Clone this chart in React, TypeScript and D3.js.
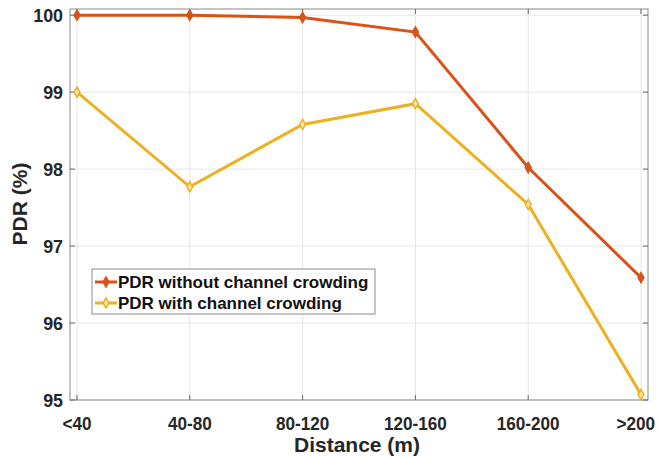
import React, { useEffect, useRef } from 'react';
import * as d3 from 'd3';

const categories = ['<40', '40-80', '80-120', '120-160', '160-200', '>200'];
const pdrWithout = [100, 100, 99.97, 99.78, 98.02, 96.59];
const pdrWith = [99.0, 97.77, 98.58, 98.85, 97.54, 95.07];
const yTicks = [95, 96, 97, 98, 99, 100];

const W = 658;
const H = 458;
const font = '"Liberation Sans", Arial, sans-serif';

const App = () => {
    const svgRef = useRef<SVGSVGElement>(null);

    useEffect(() => {
        const margin = { top: 9, right: 10, bottom: 58, left: 70 };
        const width = W - margin.left - margin.right;
        const height = H - margin.top - margin.bottom;

        const root = d3.select(svgRef.current);
        root.selectAll('*').remove();
        const svg = root.append('g').attr('transform', `translate(${margin.left},${margin.top})`);

        const x = d3.scaleLinear().domain([-0.062, categories.length - 1 + 0.062]).range([0, width]);
        const y = d3.scaleLinear().domain([95, 100.08]).range([height, 0]);
        const idx = categories.map((_, i) => i);

        // grid
        svg.append('g')
            .selectAll('line')
            .data(idx)
            .enter().append('line')
            .attr('x1', d => x(d)).attr('x2', d => x(d))
            .attr('y1', 0).attr('y2', height)
            .attr('stroke', '#e6e6e6').attr('stroke-width', 1);
        svg.append('g')
            .selectAll('line')
            .data(yTicks)
            .enter().append('line')
            .attr('x1', 0).attr('x2', width)
            .attr('y1', d => y(d)).attr('y2', d => y(d))
            .attr('stroke', '#e6e6e6').attr('stroke-width', 1);

        // box
        svg.append('rect')
            .attr('width', width).attr('height', height)
            .attr('fill', 'none').attr('stroke', '#8a8a8a').attr('stroke-width', 1);

        // ticks (inward, mirrored)
        const tk = 5;
        idx.forEach(i => {
            svg.append('line').attr('x1', x(i)).attr('x2', x(i)).attr('y1', height).attr('y2', height - tk).attr('stroke', '#666');
            svg.append('line').attr('x1', x(i)).attr('x2', x(i)).attr('y1', 0).attr('y2', tk).attr('stroke', '#666');
        });
        yTicks.forEach(v => {
            svg.append('line').attr('x1', 0).attr('x2', tk).attr('y1', y(v)).attr('y2', y(v)).attr('stroke', '#666');
            svg.append('line').attr('x1', width).attr('x2', width - tk).attr('y1', y(v)).attr('y2', y(v)).attr('stroke', '#666');
        });

        // tick labels (font in the original is a bit narrower)
        const sx = 0.9;
        svg.append('g')
            .selectAll('text')
            .data(categories)
            .enter().append('text')
            .attr('transform', (_, i) => `translate(${x(i)},${height + 30}) scale(${sx},1)`)
            .attr('text-anchor', 'middle')
            .attr('font-family', font).attr('font-weight', 'bold').attr('font-size', 19)
            .attr('fill', '#262626')
            .text(d => d)
            .each(function (_, i) {
                // keep the last label inside the page
                const w = (this as SVGTextElement).getBBox().width * sx;
                const maxX = W - margin.left - 3 - w / 2;
                if (x(i) > maxX) d3.select(this).attr('transform', `translate(${maxX},${height + 30}) scale(${sx},1)`);
            });
        svg.append('g')
            .selectAll('text')
            .data(yTicks)
            .enter().append('text')
            .attr('transform', d => `translate(-7,${y(d) + 7}) scale(0.94,1)`)
            .attr('text-anchor', 'end')
            .attr('font-family', font).attr('font-weight', 'bold').attr('font-size', 19)
            .attr('fill', '#262626')
            .text(d => d);

        // axis labels
        svg.append('text')
            .attr('x', width / 2 - 2)
            .attr('y', height + 52)
            .attr('text-anchor', 'middle')
            .attr('font-family', font).attr('font-weight', 'bold').attr('font-size', 21)
            .attr('fill', '#262626')
            .text('Distance (m)');
        svg.append('text')
            .attr('transform', `translate(${-43},${204 - margin.top}) rotate(-90)`)
            .attr('text-anchor', 'middle')
            .attr('font-family', font).attr('font-weight', 'bold').attr('font-size', 21)
            .attr('fill', '#262626')
            .text('PDR (%)');

        const line = d3.line<number>()
            .x((_, i) => x(i))
            .y(d => y(d));
        const diamond = d3.symbol().type(d3.symbolDiamond).size(30);

        const series = [
            { values: pdrWithout, color: '#D95319', fill: '#D95319', label: 'PDR without channel crowding' },
            { values: pdrWith, color: '#EDB120', fill: '#f9e4b0', label: 'PDR with channel crowding' },
        ];

        series.forEach(s => {
            svg.append('path')
                .datum(s.values)
                .attr('fill', 'none')
                .attr('stroke', s.color)
                .attr('stroke-width', 3)
                .attr('d', line);
            svg.append('g')
                .selectAll('path')
                .data(s.values)
                .enter().append('path')
                .attr('d', diamond)
                .attr('transform', (d, i) => `translate(${x(i)},${y(d)})`)
                .attr('fill', s.fill)
                .attr('stroke', s.color)
                .attr('stroke-width', 1.5);
        });

        // legend
        const lg = svg.append('g').attr('transform', `translate(${92 - margin.left},${269 - margin.top})`);
        lg.append('rect')
            .attr('width', 283).attr('height', 45)
            .attr('fill', '#fff').attr('stroke', '#8c8c8c').attr('stroke-width', 1);
        series.forEach((s, i) => {
            const cy = 13 + i * 21;
            lg.append('line').attr('x1', 3).attr('x2', 25).attr('y1', cy).attr('y2', cy)
                .attr('stroke', s.color).attr('stroke-width', 3);
            lg.append('path').attr('d', diamond).attr('transform', `translate(14,${cy})`)
                .attr('fill', s.fill).attr('stroke', s.color).attr('stroke-width', 1.5);
            lg.append('text')
                .attr('x', 26)
                .attr('y', cy + 6)
                .attr('font-family', font).attr('font-weight', 'bold').attr('font-size', 17)
                .attr('fill', '#111')
                .text(s.label);
        });
    }, []);

    return (
        <div style={{ position: 'absolute', left: 0, top: 0, width: W, height: H, background: '#fff' }}>
            <svg ref={svgRef} width={W} height={H}></svg>
        </div>
    );
};

export default App;
